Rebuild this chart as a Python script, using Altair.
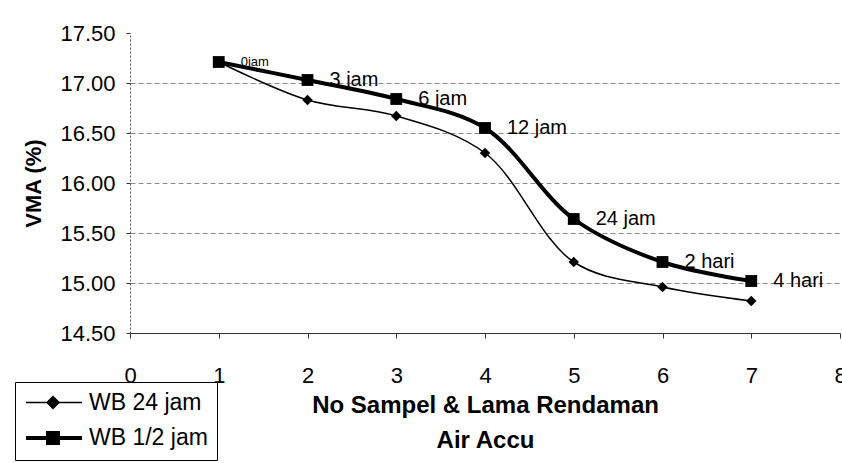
import altair as alt
import pandas as pd

# ---- data ----
sample_no = [1, 2, 3, 4, 5, 6, 7]
vma_wb_half = [17.21, 17.03, 16.84, 16.55, 15.64, 15.21, 15.02]
vma_wb_24 = [17.21, 16.83, 16.67, 16.30, 15.21, 14.96, 14.82]
soak_labels = ["0jam", "3 jam", "6 jam", "12 jam", "24 jam", "2 hari", "4 hari"]
series_names = ["WB 24 jam", "WB 1/2 jam"]
x_ticks = [0, 1, 2, 3, 4, 5, 6, 7, 8]
y_ticks = [14.5, 15.0, 15.5, 16.0, 16.5, 17.0, 17.5]

rows = []
for i, x in enumerate(sample_no):
    rows.append({"x": x, "vma": vma_wb_24[i], "series": series_names[0], "label": ""})
for i, x in enumerate(sample_no):
    rows.append({"x": x, "vma": vma_wb_half[i], "series": series_names[1], "label": soak_labels[i]})
df = pd.DataFrame(rows)

FONT = "Liberation Sans"

x_enc = alt.X(
    "x:Q",
    scale=alt.Scale(domain=[0, 8], nice=False),
    axis=alt.Axis(
        values=x_ticks,
        format="d",
        grid=False,
        title=["No Sampel & Lama Rendaman", "Air Accu"],
        titleFontSize=24,
        titleFontWeight="bold",
        titleLineHeight=35,
        titleX=355,
        titleY=60,
        titleBaseline="top",
        titleAlign="center",
        labelFontSize=22,
        labelPadding=27,
        tickSize=5,
        labelFlush=False,
        labelBound=False,
        labelOverlap=False,
        domainColor="#333333",
        tickColor="#333333",
    ),
)
y_enc = alt.Y(
    "vma:Q",
    scale=alt.Scale(domain=[14.5, 17.5], nice=False, zero=False),
    axis=alt.Axis(
        values=y_ticks,
        format=".2f",
        title="VMA (%)",
        titleFontSize=22,
        titleFontWeight="bold",
        titleX=-90,
        titleY=150,
        titleAngle=270,
        titleBaseline="alphabetic",
        titleAlign="center",
        labelFontSize=22,
        labelPadding=11,
        tickSize=4,
        grid=True,
        gridDash=[5, 3],
        gridColor="#8a8a8a",
        gridOpacity={"condition": {"test": "datum.value >= 17.49", "value": 0}, "value": 1},
        domainColor="#555555",
        domainDash=[2, 2],
        tickColor="#333333",
    ),
)

legend_shape = (
    "datum.value === 'WB 24 jam' ? "
    "'M-1,0H4.6M1.7,-0.6L2.3,0L1.7,0.6L1.1,0Z' : "
    "'M-1,0H4.6M1.2,-0.5H2.2V0.5H1.2Z'"
)
legend_width = "datum.value === 'WB 24 jam' ? 1.5 : 4"

lines = alt.Chart(df).mark_line(interpolate="catmull-rom").encode(
    x=x_enc,
    y=y_enc,
    color=alt.Color(
        "series:N",
        scale=alt.Scale(domain=series_names, range=["black", "black"]),
        legend=alt.Legend(
            title=None,
            orient="none",
            legendX=-115,
            legendY=349,
            labelFontSize=23,
            labelFont=FONT,
            labelColor="black",
            symbolSize=400,
            symbolType=alt.ExprRef(legend_shape),
            symbolStrokeWidth=alt.ExprRef(legend_width),
            symbolStrokeColor="black",
            symbolFillColor="black",
            symbolOpacity=1,
            labelOffset=41,
            padding=9,
            rowPadding=10,
            strokeColor="black",
            fillColor="white",
        ),
    ),
    strokeWidth=alt.StrokeWidth(
        "series:N",
        scale=alt.Scale(domain=series_names, range=[1.5, 4]),
        legend=None,
    ),
)

is_24 = alt.datum.series == series_names[0]
points = alt.Chart(df).mark_point(filled=True, color="black", opacity=1).encode(
    x="x:Q",
    y="vma:Q",
    shape=alt.condition(is_24, alt.value("diamond"), alt.value("square")),
    size=alt.condition(is_24, alt.value(110), alt.value(140)),
)

labels = (
    alt.Chart(df)
    .transform_filter(alt.datum.label != "")
    .mark_text(align="left", baseline="middle", dx=22, font=FONT, color="black")
    .encode(
        x="x:Q",
        y="vma:Q",
        text="label:N",
        size=alt.condition(alt.datum.x == 1, alt.value(13), alt.value(20)),
    )
)

chart = (
    alt.layer(lines, points, labels)
    .properties(
        width=710,
        height=300,
        padding={"left": 130, "top": 33, "right": 2, "bottom": 130},
        autosize=alt.AutoSizeParams(type="none"),
        background="white",
    )
    .configure(font=FONT)
    .configure_axis(labelFont=FONT, titleFont=FONT, labelColor="black", titleColor="black")
    .configure_view(strokeWidth=0)
)

chart.save("out.html", embed_options={"renderer": "svg", "actions": False})
